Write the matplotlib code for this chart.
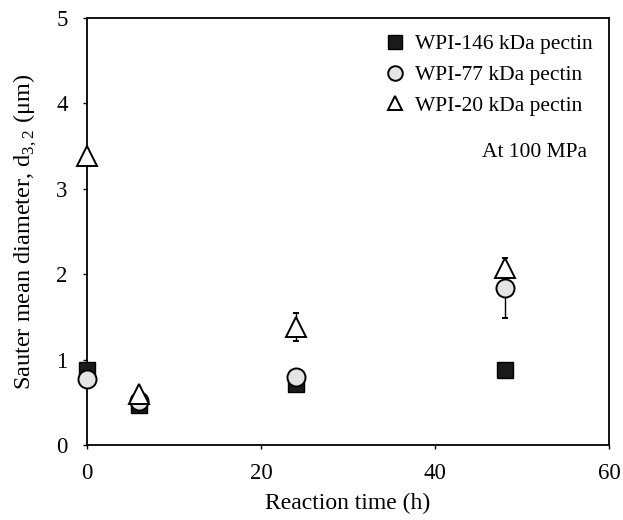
import numpy as np
import matplotlib
matplotlib.use("Agg")
import matplotlib.pyplot as plt
from matplotlib.lines import Line2D

plt.rcParams['font.family'] = ['Liberation Serif', 'DejaVu Serif']
plt.rcParams['mathtext.fontset'] = 'custom'
plt.rcParams['mathtext.rm'] = 'Liberation Serif'

# Reaction time (h)
time = [0, 6, 24, 48]

# Sauter mean diameter d3,2 (um)
d_146 = [0.88, 0.47, 0.72, 0.88]
d_146_err = [0.0, 0.0, 0.0, 0.0]
d_77 = [0.77, 0.52, 0.80, 1.84]
d_77_err = [0.0, 0.0, 0.0, 0.35]
d_20 = [3.38, 0.60, 1.38, 2.07]
d_20_err = [0.0, 0.0, 0.16, 0.05]

labels = ['WPI-146 kDa pectin', 'WPI-77 kDa pectin', 'WPI-20 kDa pectin']

fig = plt.figure(figsize=(6.23, 5.2), dpi=100)
ax = fig.add_axes([0.1396, 0.1442, 0.838, 0.8212])

sq = dict(marker='s', ms=11.5, mfc='#1a1a1a', mec='black')
ci = dict(marker='o', ms=13, mfc='#e4e4e4', mec='black', mew=1.4)
tr = dict(marker='^', ms=14, mfc='white', mec='black', mew=1.4)

for y, e, st, z in [(d_146, d_146_err, sq, 3), (d_77, d_77_err, ci, 4), (d_20, d_20_err, tr, 5)]:
    eb = ax.errorbar(time, y, yerr=e, ls='none', ecolor='black', elinewidth=1,
                     capsize=2.5, zorder=z, **st)
    eb[0].set_clip_on(False)

ax.set_xlim(0, 60)
ax.set_ylim(0, 5)
ax.set_xticks([0, 20, 40, 60])
ax.set_yticks([0, 1, 2, 3, 4, 5])
ax.tick_params(direction='out', length=3, width=1, labelsize=16.5)
ax.tick_params(axis='x', pad=10)
ax.tick_params(axis='y', pad=11)
for s in ax.spines.values():
    s.set_linewidth(1.3)

ax.set_xlabel('Reaction time (h)', fontsize=17, labelpad=6)
ax.set_ylabel('Sauter mean diameter, d$_{\\mathrm{3,2}}$ (μm)', fontsize=17.5, labelpad=12)

handles = []
for st in (sq, ci, tr):
    kw = dict(st)
    kw['ms'] = 10.5
    handles.append(Line2D([], [], ls='none', **kw))
ax.legend(handles, labels, loc='upper right', frameon=False, fontsize=15.5,
          handletextpad=0.4, borderaxespad=0.35, labelspacing=0.5, handlelength=1.1,
          bbox_to_anchor=(1.0, 1.0))

ax.text(0.858, 0.684, 'At 100 MPa', transform=ax.transAxes, fontsize=15.5, ha='center', va='center')

fig.savefig('out.png', dpi=100)
